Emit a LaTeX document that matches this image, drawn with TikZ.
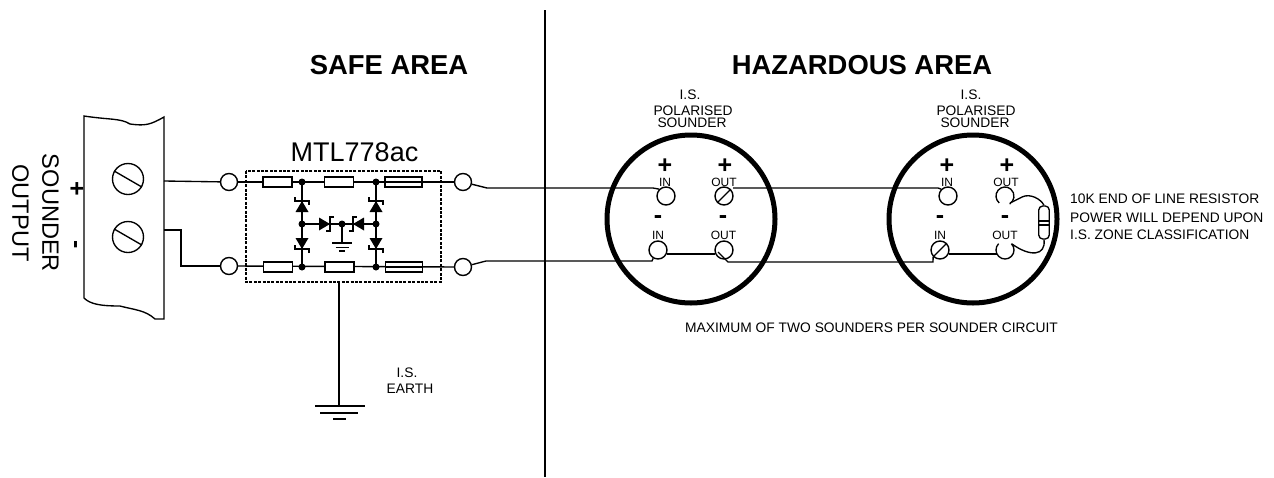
\documentclass[tikz,border=0pt]{standalone}
\usepackage{fontspec}
\setmainfont{Liberation Sans}
\tikzset{>=latex}
\tikzset{
  wire/.style={draw=black,line width=1.35pt},
  term/.style={circle,draw=black,line width=1.4pt,fill=white,minimum size=17pt,inner sep=0pt},
  screw/.style={circle,draw=black,line width=1.35pt,minimum size=31pt,inner sep=0pt},
  post/.style={circle,draw=black,line width=1.4pt,fill=white,minimum size=18pt,inner sep=0pt},
  sounder/.style={circle,draw=black,line width=5pt,minimum size=168pt,inner sep=0pt},
  resbox/.style={rectangle,draw=black,line width=1.35pt,fill=white,minimum width=29pt,minimum height=10pt,inner sep=0pt},
  fusebox/.style={resbox,minimum width=37pt},
  dot/.style={circle,fill=black,minimum size=7pt,inner sep=0pt},
  mybox/.style={draw=black,line width=2.2pt,dash pattern=on 3pt off 1.4pt},
  lab/.style={inner sep=0pt,font=\fontsize{13.8}{14}\selectfont},
  tiny/.style={inner sep=0pt,font=\fontsize{12}{13}\selectfont},
  title/.style={inner sep=0pt,font=\fontsize{27.4}{30}\selectfont\bfseries},
  sign/.style={inner sep=0pt,font=\fontsize{25}{25}\selectfont\bfseries},
}
\def\myzener#1#2#3{% tip position, rotation, name
  \begin{scope}[shift={(#1)},rotate=#2]
    \fill[black] (-6.5,6) -- (6.5,6) -- (0,-5) -- cycle;
    \draw[line width=1.35pt] (-7,-9) -- (-7,-5) -- (7,-5) -- (7,-1);
  \end{scope}}
\begin{document}
\begin{tikzpicture}[x=1pt,y=-1pt]
  \useasboundingbox (0,0) rectangle (1274,477);

  % titles
  \node[title] (safe) at (389,65) {SAFE AREA};
  \node[title] (haz) at (862,65) {HAZARDOUS AREA};
  \coordinate (divtop) at (545,10);
  \coordinate (divbot) at (545,477);
  \draw[wire] (divtop) -- (divbot);

  % terminal block
  \draw[wire] (84,116) .. controls (110,120) and (120,118) .. (130,124)
     .. controls (145,126) and (150,125) .. (164,117) -- (164,319) -- (155,319)
     .. controls (145,310) and (135,310) .. (120,306) .. controls (100,306) and (90,304) .. (84,298) -- cycle;
  \node[screw] (sc1) at (128,179) {};
  \node[screw] (sc2) at (128,237) {};
  \draw[wire] (sc1.150) -- (sc1.-30);
  \draw[wire] (sc2.150) -- (sc2.-30);
  \node[sign,rotate=-90] (plusL) at (76,189) {+};
  \node[sign,rotate=-90] (minusL) at (73,245) {-};
  \node[inner sep=0pt,rotate=-90,align=center,font=\fontsize{23.6}{30}\selectfont] (outlab) at (35.5,213) {SOUNDER\\OUTPUT};

  % barrier
  \node[term] (t1) at (229,182) {};
  \node[term] (t2) at (229,266) {};
  \node[term] (t3) at (463,182) {};
  \node[term] (t4) at (463,267) {};
  \coordinate (b1) at (164,181);
  \coordinate (b2) at (164,230);
  \draw[wire] (b1) -- (t1);
  \draw[wire] (b2) -| (181,266) -- (t2);
  \node[inner sep=0pt,font=\fontsize{27}{28}\selectfont] (mtl) at (354.5,152) {MTL778ac};

  \coordinate (jt1) at (302,182);
  \coordinate (jt2) at (376,182);
  \coordinate (jb1) at (302,267);
  \coordinate (jb2) at (376,267);
  \coordinate (jm1) at (302,224);
  \coordinate (jm2) at (376,224);
  \coordinate (jc) at (342,224);
  \draw[wire] (t1) -- (t3);
  \draw[wire] (t2) -- (t4);
  \draw[mybox] (246,171) rectangle (441,282);
  \draw[wire] (jt1) -- (jb1);
  \draw[wire] (jt2) -- (jb2);
  \draw[wire] (jm1) -- (jm2);
  \node[resbox] (r1) at (277.5,182) {};
  \node[resbox] (r2) at (339,182) {};
  \node[fusebox] (f1) at (403.5,182) {};
  \node[resbox] (r3) at (278,267) {};
  \node[resbox] (r4) at (339.5,267) {};
  \node[fusebox] (f2) at (404,267) {};
  \draw[wire] (f1.west) -- (f1.east);
  \draw[wire] (f2.west) -- (f2.east);
  \foreach \p in {jt1,jt2,jb1,jb2,jm1,jm2,jc} \node[dot] at (\p) {};
  \myzener{302,206}{0}{}
  \myzener{376,206}{0}{}
  \myzener{302,244}{180}{}
  \myzener{376,244}{180}{}
  \myzener{325,224}{-90}{}
  \myzener{358,224}{90}{}

  % small earth in the barrier
  \draw[wire] (jc) -- (342,243);
  \draw[wire] (332,243) -- (352,243);
  \draw[wire] (335.5,247.5) -- (348.5,247.5);
  \draw[wire] (339,251) -- (345,251);

  % I.S. earth
  \coordinate (e0) at (339,282);
  \coordinate (e1) at (339,406);
  \draw[wire] (e0) -- (e1);
  \draw[wire] (315,406) -- (365,406);
  \draw[wire] (320,413) -- (358,413);
  \draw[wire] (333,419) -- (346,419);
  \node[lab] (earthis) at (407,373) {I.S.};
  \node[lab] (earth) at (410,389) {EARTH};

  % sounders
  \node[sounder] (s1) at (691,219) {};
  \node[sounder] (s2) at (973,219) {};
  \node[post] (in1p) at (666,196) {};
  \node[post] (ou1p) at (724,196) {};
  \node[post] (in1m) at (658,250) {};
  \node[post] (ou1m) at (724,250) {};
  \node[post] (in2p) at (948,196) {};
  \node[post] (in2m) at (940,250) {};
  \draw[wire] (ou1p.225) -- (ou1p.45);
  \draw[wire] (in2m.225) -- (in2m.45);

  % field wiring
  \coordinate (w1) at (733,188);
  \coordinate (w2) at (667,254);
  \coordinate (w3) at (715,254);
  \coordinate (w4) at (718,252);
  \coordinate (w5) at (949,254);
  \coordinate (w6) at (997,254);
  \draw[wire] (t3) -- (487,188) -- (653,188) -- (in1p.135);
  \draw[wire] (t4) -- (486,261) -- (652,261) -- (in1m.240);
  \draw[wire] (w1) -- (938,188) -- (in2p.135);
  \draw[wire] (w2) -- (w3);
  \draw[wire] (w4) -- (728,262) -- (933,262) -- (in2m.225);
  \draw[wire] (w5) -- (w6);

  % open out terminals and end of line resistor
  \draw[wire] (1005,196) ++(130:9) arc[start angle=130,end angle=415,radius=9] -- (1010,203);
  \draw[wire] (1005,250) ++(225:9) arc[start angle=225,end angle=-45,radius=9];
  \node[inner sep=0pt,rectangle,rounded corners=4pt,draw=black,line width=1.35pt,minimum width=10.5pt,minimum height=33pt] (eol) at (1044,222.5) {};
  \draw[wire] (eol.north) .. controls (1041,199) and (1030,193) .. (1022,197) -- (1010,203);
  \draw[wire] (eol.south) .. controls (1046,256) and (1030,257) .. (1012,244);
  \draw[wire] (1039,221) -- (1049,221);
  \draw[wire] (1039,225) -- (1049,225);

  % sounder labels
  \node[lab] (is1) at (690,95) {I.S.};
  \node[lab] (pol1) at (693,111) {POLARISED};
  \node[lab] (snd1) at (692,123) {SOUNDER};
  \node[lab] (is2) at (971,95) {I.S.};
  \node[lab] (pol2) at (976,111) {POLARISED};
  \node[lab] (snd2) at (975,123) {SOUNDER};
  \node[sign] at (665,166) {+};
  \node[sign] at (725,166) {+};
  \node[sign] at (947,166) {+};
  \node[sign] at (1007,166) {+};
  \node[sign] at (658,220) {-};
  \node[sign] at (723,220) {-};
  \node[sign] at (940,220) {-};
  \node[sign] at (1005,220) {-};
  \node[tiny] at (665,182) {IN};
  \node[tiny] at (724,182) {OUT};
  \node[tiny] at (658,235) {IN};
  \node[tiny] at (723.5,235) {OUT};
  \node[tiny] at (947,182) {IN};
  \node[tiny] at (1006,182) {OUT};
  \node[tiny] at (940,235) {IN};
  \node[tiny] at (1005,235) {OUT};

  % notes
  \node[lab,anchor=west] (maxlab) at (685,328) {MAXIMUM OF TWO SOUNDERS PER SOUNDER CIRCUIT};
  \node[lab,anchor=west] (note1) at (1070,199) {10K END OF LINE RESISTOR};
  \node[lab,anchor=west] (note2) at (1070,218) {POWER WILL DEPEND UPON};
  \node[lab,anchor=west] (note3) at (1070,235) {I.S. ZONE CLASSIFICATION};
\end{tikzpicture}
\end{document}
